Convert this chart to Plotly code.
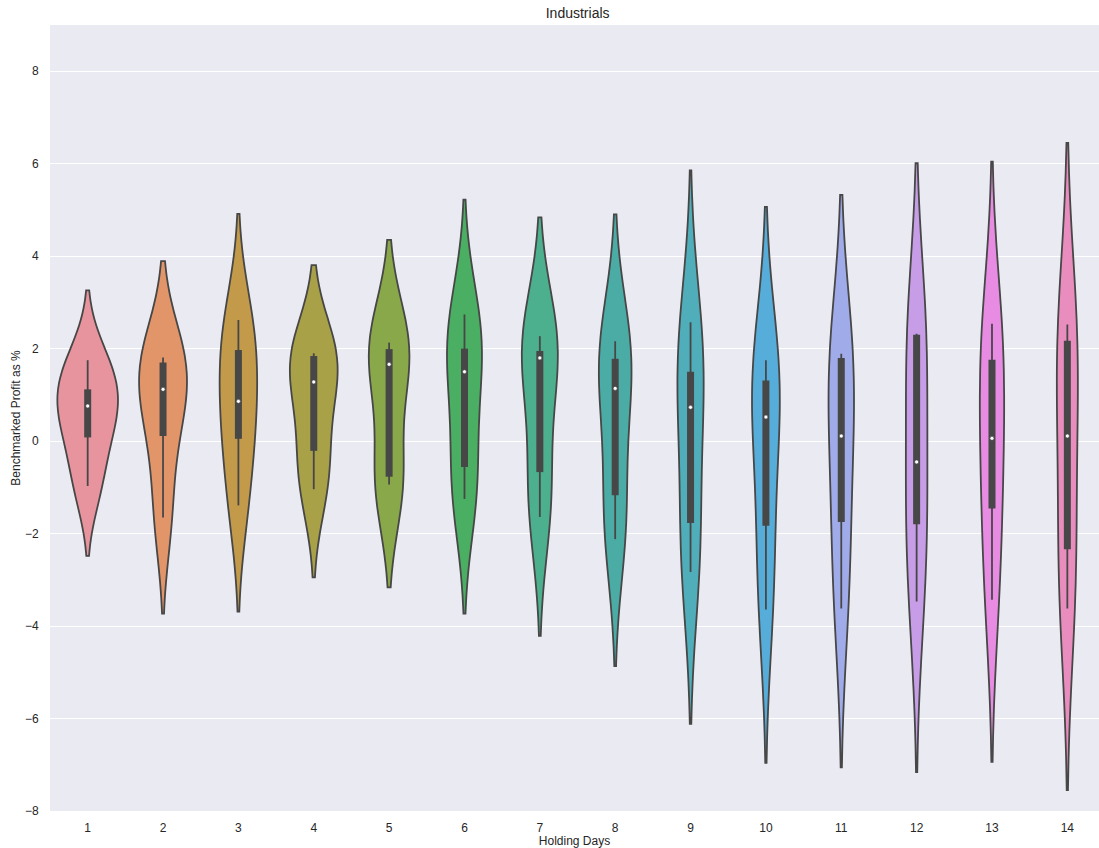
import numpy as np
import plotly.graph_objects as go

# Holding-day categories
days = [str(d) for d in range(1, 15)]

# Benchmarked profit (%) samples per holding day
profit_day1 = [-0.97, 0.08, 0.76, 1.12, 1.75]
profit_day2 = [-1.65, 0.11, 1.12, 1.70, 1.81]
profit_day3 = [-1.39, 0.05, 0.86, 1.97, 2.62]
profit_day4 = [-1.04, -0.21, 1.28, 1.84, 1.90]
profit_day5 = [-0.94, -0.77, 1.66, 1.99, 2.13]
profit_day6 = [-1.25, -0.56, 1.50, 2.00, 2.74]
profit_day7 = [-1.64, -0.67, 1.80, 1.95, 2.27]
profit_day8 = [-2.12, -1.17, 1.14, 1.78, 2.16]
profit_day9 = [-2.83, -1.77, 0.73, 1.50, 2.57]
profit_day10 = [-3.64, -1.83, 0.52, 1.31, 1.75]
profit_day11 = [-3.62, -1.75, 0.11, 1.80, 1.89]
profit_day12 = [-3.47, -1.80, -0.45, 2.30, 2.32]
profit_day13 = [-3.43, -1.46, 0.06, 1.76, 2.54]
profit_day14 = [-3.62, -2.34, 0.11, 2.17, 2.52]

samples = [profit_day1, profit_day2, profit_day3, profit_day4, profit_day5,
           profit_day6, profit_day7, profit_day8, profit_day9, profit_day10,
           profit_day11, profit_day12, profit_day13, profit_day14]

# Fill colours for each violin
colors = ["#E8949E", "#E3956A", "#C29A4A", "#A9A147", "#89A84A", "#4AAF62",
          "#4CAF8D", "#4BACA6", "#4FAEB9", "#56ADD9", "#A0ABEA", "#C79DE8",
          "#E78CE2", "#E98DBF"]
GRAY = "#474747"
FONT = "Liberation Sans, Arial, sans-serif"
TEXT = "#262626"
MAX_WIDTH = 0.8  # category-width share of the widest violin


def scott_bw(arr):
    """Scott's rule kernel bandwidth."""
    return arr.std(ddof=1) * len(arr) ** (-1 / 5)


def kde_peak(arr, bw):
    """Peak height of the Gaussian KDE over its cut=2 span."""
    t = np.linspace(arr.min() - 2 * bw, arr.max() + 2 * bw, 400)
    z = (t[:, None] - arr[None, :]) / bw
    dens = np.exp(-0.5 * z ** 2).sum(axis=1) / (len(arr) * bw * np.sqrt(2 * np.pi))
    return dens.max()


arrays = [np.asarray(v, dtype=float) for v in samples]
bws = [scott_bw(a) for a in arrays]
peaks = [kde_peak(a, b) for a, b in zip(arrays, bws)]
top_peak = max(peaks)

fig = go.Figure()

# Equal-area violins: width follows each density peak relative to the tallest
for day, arr, bw, pk, col in zip(days, arrays, bws, peaks, colors):
    fig.add_trace(go.Violin(
        x=[day] * len(arr), y=arr,
        name=day, width=MAX_WIDTH * pk / top_peak,
        scalemode="width",
        spanmode="soft", bandwidth=bw,
        fillcolor=col, opacity=1,
        line=dict(color=GRAY, width=1.8),
        points=False, box_visible=False, meanline_visible=False,
        hoverinfo="skip", showlegend=False,
    ))

# Inner box plot: whiskers, interquartile bar, median dot
wx, wy, bx, by, mx, my = [], [], [], [], [], []
for day, arr in zip(days, arrays):
    q1, q2, q3 = np.percentile(arr, [25, 50, 75])
    lim = 1.5 * (q3 - q1)
    lo = arr[arr >= q1 - lim].min()
    hi = arr[arr <= q3 + lim].max()
    wx += [day, day, None]
    wy += [lo, hi, None]
    bx += [day, day, None]
    by += [q1, q3, None]
    mx.append(day)
    my.append(q2)

fig.add_trace(go.Scatter(x=wx, y=wy, mode="lines",
                         line=dict(color=GRAY, width=1.8),
                         hoverinfo="skip", showlegend=False))
fig.add_trace(go.Scatter(x=bx, y=by, mode="lines",
                         line=dict(color=GRAY, width=7),
                         hoverinfo="skip", showlegend=False))
fig.add_trace(go.Scatter(x=mx, y=my, mode="markers",
                         marker=dict(color="white", size=4,
                                     line=dict(color=GRAY, width=0.6)),
                         hoverinfo="skip", showlegend=False))

fig.update_layout(
    width=1099, height=848,
    margin=dict(l=50, r=0, t=25, b=37),
    paper_bgcolor="white", plot_bgcolor="#EAEAF2",
    violinmode="overlay",
    font=dict(family=FONT, size=12, color=TEXT),
    title=dict(text="Industrials", x=0.503, xref="paper", xanchor="center",
               y=0.985, yref="container", yanchor="middle",
               font=dict(family=FONT, size=14, color=TEXT)),
    xaxis=dict(
        type="category", categoryorder="array", categoryarray=days,
        range=[-0.5, 13.42], showgrid=False, zeroline=False, showline=False,
        ticks="outside", ticklen=6, tickcolor="rgba(0,0,0,0)",
        tickfont=dict(family=FONT, size=12, color=TEXT),
        title=dict(text="Holding Days", standoff=1,
                   font=dict(family=FONT, size=12, color=TEXT)),
    ),
    yaxis=dict(
        range=[-8, 9], tickvals=[-8, -6, -4, -2, 0, 2, 4, 6, 8],
        ticktext=["\u22128", "\u22126", "\u22124", "\u22122", "0", "2", "4", "6", "8"],
        showgrid=True, gridcolor="white", gridwidth=1.2,
        zeroline=False, showline=False,
        ticks="outside", ticklen=8, tickcolor="rgba(0,0,0,0)",
        tickfont=dict(family=FONT, size=12, color=TEXT),
        title=dict(text="Benchmarked Profit as %", standoff=1,
                   font=dict(family=FONT, size=12, color=TEXT)),
    ),
)

fig.write_html("out.html")
